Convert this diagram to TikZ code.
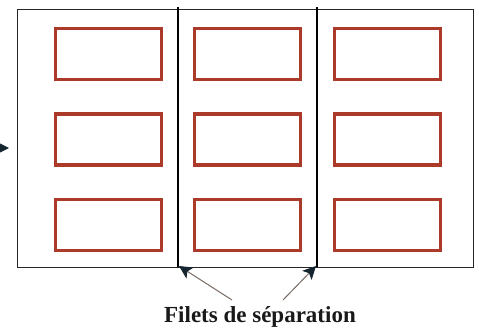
\documentclass[tikz,border=0pt]{standalone}
\usepackage{fontspec}
\setmainfont{Liberation Serif}
\usetikzlibrary{arrows.meta}
\definecolor{boxred}{RGB}{172,58,42}
\definecolor{tipnavy}{RGB}{22,38,48}
\definecolor{leadgray}{RGB}{120,105,98}
\tikzset{
  slot/.style={draw=boxred, line width=3.2pt, minimum width=106pt, minimum height=51pt, inner sep=0pt},
  frame/.style={draw=black!85, line width=1pt},
  rule/.style={draw=black, line width=2pt},
  leader/.style={draw=leadgray, line width=1pt, -{Stealth[length=13pt,width=13pt,inset=3pt,color=tipnavy]}},
  caption/.style={font=\bfseries\fontsize{23}{26}\selectfont, text=black!90, inner sep=0pt}
}
\begin{document}
\begin{tikzpicture}[x=1pt,y=-1pt]
\useasboundingbox (0,0) rectangle (479,330);
% page outline
\draw[frame] (17,9) rectangle (473,267);
% column separators
\coordinate (s1top) at (178,7);
\coordinate (s1bot) at (178,267);
\coordinate (s2top) at (317,7);
\coordinate (s2bot) at (317,267);
\draw[rule] (s1top) -- (s1bot);
\draw[rule] (s2top) -- (s2bot);
% three columns of three blocks
\foreach \cx/\c in {108.5/a,247.5/b,387.5/c}{
  \foreach \cy/\r in {54/1,139.5/2,225/3}{
    \node[slot] (\c\r) at (\cx,\cy) {};
  }
}
% caption with leaders to the separators
\node[caption, anchor=base] (cap) at (260,322) {Filets de séparation};
\coordinate (l1) at (232,300);
\coordinate (l2) at (283,300);
\coordinate (t1) at (179,266);
\coordinate (t2) at (316,266);
\draw[leader] (l1) -- (t1);
\draw[leader] (l2) -- (t2);
% arrow entering from the left edge
\coordinate (inA) at (-6,148);
\coordinate (inB) at (9,148);
\draw[leader, draw=tipnavy] (inA) -- (inB);
\end{tikzpicture}
\end{document}
